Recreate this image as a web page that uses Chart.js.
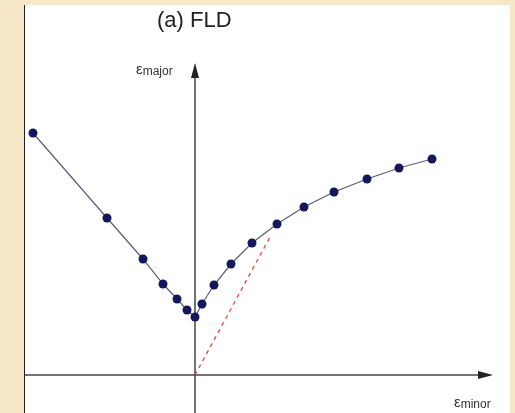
<!DOCTYPE html>
<html>
<head>
<meta charset="utf-8">
<script src="https://cdn.jsdelivr.net/npm/chart.js@4"></script>
<style>
  html, body { margin: 0; padding: 0; }
  body { width: 515px; height: 413px; background: #f6e8c6; position: relative; overflow: hidden; font-family: "Liberation Sans", Arial, sans-serif; }
  #panel { position: absolute; left: 24px; top: 5px; width: 485px; height: 408px; background: #fff; border-left: 1.5px solid #222; }
  #chart { position: absolute; left: 0; top: 0; }
  .lbl { position: absolute; color: #333; white-space: nowrap; }
  #title { left: 132px; top: 2px; font-size: 22px; color: #222; }
  .eps { font-size: 15px; }
  .sub { font-size: 12px; vertical-align: -1px; }
</style>
</head>
<body>
<div id="panel">
  <canvas id="chart" width="485" height="408"></canvas>
  <div class="lbl" id="title">(a) FLD</div>
  <div class="lbl" style="left:111px; top:55px;"><span class="eps">ε</span><span class="sub">major</span></div>
  <div class="lbl" style="left:429px; top:388px;"><span class="eps">ε</span><span class="sub">minor</span></div>
</div>
<script>
// forming limit curve, minor strain vs major strain (arbitrary units)
const minorStrain = [-16.2, -8.8, -5.2, -3.2, -1.8, -0.8, 0.0, 0.7, 1.9, 3.6, 5.7, 8.2, 10.9, 13.9, 17.2, 20.4, 23.7];
const majorStrain = [24.2, 15.7, 11.6, 9.1, 7.6, 6.5, 5.8, 7.1, 9.0, 11.1, 13.2, 15.1, 16.8, 18.3, 19.6, 20.7, 21.6];
// dashed red line from the origin
const pathMinor = [0, 7.5];
const pathMajor = [0, 13.8];

const axisArrows = {
    id: 'axisArrows',
    beforeDatasetsDraw(chart) {
        const ctx = chart.ctx;
        const xs = chart.scales.x, ys = chart.scales.y;
        const area = chart.chartArea;
        const x0 = xs.getPixelForValue(0);
        const y0 = ys.getPixelForValue(0);
        const yTip = ys.getPixelForValue(31.2);
        const xTip = xs.getPixelForValue(29.8);
        ctx.save();
        ctx.strokeStyle = '#444';
        ctx.fillStyle = '#222';
        ctx.lineWidth = 1.5;
        // vertical axis
        ctx.beginPath();
        ctx.moveTo(x0, area.bottom);
        ctx.lineTo(x0, yTip + 10);
        ctx.stroke();
        ctx.beginPath();
        ctx.moveTo(x0, yTip);
        ctx.lineTo(x0 - 4, yTip + 15);
        ctx.lineTo(x0 + 4, yTip + 15);
        ctx.closePath();
        ctx.fill();
        // horizontal axis
        ctx.beginPath();
        ctx.moveTo(area.left, y0);
        ctx.lineTo(xTip - 10, y0);
        ctx.stroke();
        ctx.beginPath();
        ctx.moveTo(xTip, y0);
        ctx.lineTo(xTip - 15, y0 - 4);
        ctx.lineTo(xTip - 15, y0 + 4);
        ctx.closePath();
        ctx.fill();
        ctx.restore();
    }
};

new Chart(document.getElementById('chart').getContext('2d'), {
    type: 'scatter',
    data: {
        datasets: [
            {
                data: pathMinor.map((x, i) => ({ x: x, y: pathMajor[i] })),
                showLine: true,
                borderColor: '#d24a4a',
                borderWidth: 1.3,
                borderDash: [4, 4],
                pointRadius: 0
            },
            {
                data: minorStrain.map((x, i) => ({ x: x, y: majorStrain[i] })),
                showLine: true,
                borderColor: '#5c5c78',
                borderWidth: 1.2,
                pointRadius: 4.5,
                pointBackgroundColor: '#16165c',
                pointBorderColor: '#16165c',
                pointBorderWidth: 0
            }
        ]
    },
    options: {
        responsive: false,
        animation: false,
        layout: { padding: 0, autoPadding: false },
        plugins: { legend: { display: false }, tooltip: { enabled: false } },
        scales: {
            x: { type: 'linear', display: false, min: -17.0, max: 31.5 },
            y: { type: 'linear', display: false, min: -3.8, max: 37.0 }
        }
    },
    plugins: [axisArrows]
});
</script>
</body>
</html>
